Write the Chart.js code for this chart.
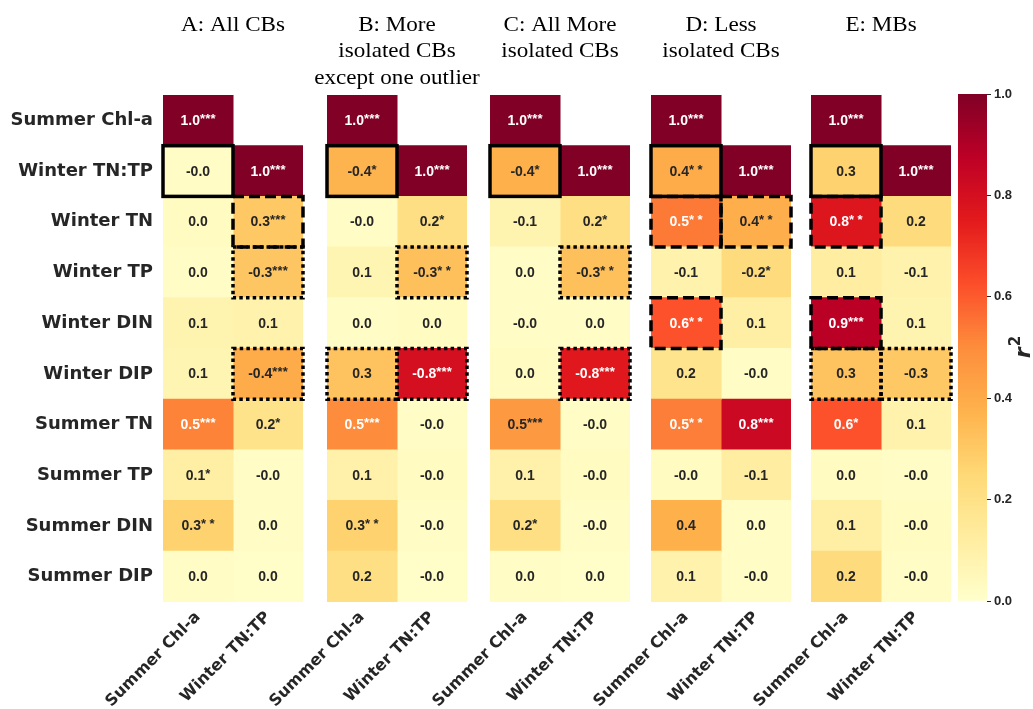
<!DOCTYPE html>
<html lang="en">
<head>
  <meta charset="UTF-8">
  <title>Nutrient correlation heatmaps</title>
  <script src="https://cdn.jsdelivr.net/npm/chart.js"></script>
  <style>
    body { margin: 0; background: #fff; }
    #board { position: relative; width: 1033px; height: 709px; overflow: hidden; }
    #board canvas { position: absolute; top: 0; }
  </style>
</head>
<body>
<div id="board"></div>

<script>
  const rowNames = ['Summer Chl-a', 'Winter TN:TP', 'Winter TN', 'Winter TP', 'Winter DIN',
                    'Winter DIP', 'Summer TN', 'Summer TP', 'Summer DIN', 'Summer DIP'];
  const colNames = ['Summer Chl-a', 'Winter TN:TP'];

  const titleA = ['A: All CBs'];
  const titleB = ['B: More', 'isolated CBs', 'except one outlier'];
  const titleC = ['C: All More', 'isolated CBs'];
  const titleD = ['D: Less', 'isolated CBs'];
  const titleE = ['E: MBs'];

  // signed r, first list = Summer Chl-a column, second = Winter TN:TP column
  const rA = [
    [1.00, -0.02, 0.03, 0.02, 0.08, 0.07, 0.52, 0.11, 0.27, 0.02],
    [null, 1.00, 0.30, -0.31, 0.09, -0.40, 0.19, -0.02, 0.02, 0.01]
  ];
  const rB = [
    [1.00, -0.37, -0.02, 0.07, 0.02, 0.32, 0.50, 0.10, 0.27, 0.21],
    [null, 1.00, 0.21, -0.33, 0.03, -0.80, -0.02, -0.03, -0.02, -0.01]
  ];
  const rC = [
    [1.00, -0.38, -0.08, 0.02, -0.02, 0.03, 0.46, 0.10, 0.21, 0.02],
    [null, 1.00, 0.21, -0.33, 0.02, -0.76, -0.02, -0.03, -0.02, 0.01]
  ];
  const rD = [
    [1.00, 0.40, 0.54, -0.09, 0.62, 0.18, 0.53, -0.03, 0.38, 0.09],
    [null, 1.00, 0.39, -0.23, 0.11, -0.02, 0.83, -0.12, 0.02, -0.02]
  ];
  const rE = [
    [1.00, 0.27, 0.77, 0.12, 0.88, 0.32, 0.62, 0.03, 0.11, 0.23],
    [null, 1.00, 0.23, -0.09, 0.08, -0.30, 0.09, -0.02, -0.03, -0.02]
  ];

  // number of significance stars per cell
  const starsA = [[3, 0, 0, 0, 0, 0, 3, 1, 2, 0], [0, 3, 3, 3, 0, 3, 1, 0, 0, 0]];
  const starsB = [[3, 1, 0, 0, 0, 0, 3, 0, 2, 0], [0, 3, 1, 2, 0, 3, 0, 0, 0, 0]];
  const starsC = [[3, 1, 0, 0, 0, 0, 3, 0, 1, 0], [0, 3, 1, 2, 0, 3, 0, 0, 0, 0]];
  const starsD = [[3, 2, 2, 0, 2, 0, 2, 0, 0, 0], [0, 3, 2, 1, 0, 0, 3, 0, 0, 0]];
  const starsE = [[3, 0, 2, 0, 3, 0, 1, 0, 0, 0], [0, 3, 0, 0, 0, 0, 0, 0, 0, 0]];

  // highlighted cells: [row, column, outline]
  const boxesA = [[2, 1, 'dashed'], [3, 1, 'dotted'], [5, 1, 'dotted'], [1, 0, 'solid']];
  const boxesB = [[3, 1, 'dotted'], [5, 0, 'dotted'], [5, 1, 'dotted'], [1, 0, 'solid']];
  const boxesC = [[3, 1, 'dotted'], [5, 1, 'dotted'], [1, 0, 'solid']];
  const boxesD = [[2, 0, 'dashed'], [2, 1, 'dashed'], [4, 0, 'dashed'], [1, 0, 'solid']];
  const boxesE = [[5, 0, 'dotted'], [5, 1, 'dotted'], [2, 0, 'dashed'], [4, 0, 'dashed'], [1, 0, 'solid']];

  const cbarTicks = [0, 0.2, 0.4, 0.6, 0.8, 1.0];

  // ---- layout ----
  const panelLeft = [163, 327, 490, 651, 811];
  const panelW = 140;
  const padRight = 30;
  const gridTop = 95, gridBottom = 602, pageH = 709;
  const ink = '#262626';

  // YlOrRd
  const ylOrRd = [[255,255,204],[255,237,160],[254,217,118],[254,178,76],[253,141,60],
                  [252,78,42],[227,26,28],[189,0,38],[128,0,38]];

  function shade(v) {
    const t = Math.min(Math.abs(v), 1) * (ylOrRd.length - 1);
    const i = Math.min(Math.floor(t), ylOrRd.length - 2);
    const f = t - i;
    return ylOrRd[i].map((c, k) => Math.round(c + (ylOrRd[i + 1][k] - c) * f));
  }
  const css = c => `rgb(${c[0]},${c[1]},${c[2]})`;

  function luminance(c) {
    const lin = c.map(x => {
      x /= 255;
      return x <= 0.03928 ? x / 12.92 : Math.pow((x + 0.055) / 1.055, 2.4);
    });
    return 0.2126 * lin[0] + 0.7152 * lin[1] + 0.0722 * lin[2];
  }

  // value text + superscript stars in every cell
  const cellText = {
    id: 'cellText',
    afterDatasetsDraw(chart) {
      const ctx = chart.ctx;
      ctx.save();
      ctx.textBaseline = 'alphabetic';
      ctx.textAlign = 'left';
      chart.data.datasets.forEach((ds, c) => {
        chart.getDatasetMeta(c).data.forEach((bar, r) => {
          const v = ds.cellValues[r];
          if (v == null) return;
          const txt = v.toFixed(1);
          const n = ds.cellStars[r];
          const cx = (bar.x + bar.base) / 2;
          const base = bar.y + 4.5;
          ctx.font = 'bold 14px "Liberation Sans", Arial, sans-serif';
          const wNum = ctx.measureText(txt).width;
          ctx.font = 'bold 13px "Liberation Sans", Arial, sans-serif';
          const wStar = ctx.measureText('*').width;
          const pitch = n === 2 ? 8.5 : 5.2;
          const wStars = n ? (n - 1) * pitch + wStar : 0;
          const x0 = cx - (wNum + wStars) / 2;
          ctx.fillStyle = luminance(shade(v)) > 0.408 ? ink : '#ffffff';
          ctx.font = 'bold 14px "Liberation Sans", Arial, sans-serif';
          ctx.fillText(txt, x0, base);
          ctx.font = 'bold 13px "Liberation Sans", Arial, sans-serif';
          for (let s = 0; s < n; s++) {
            ctx.fillText('*', x0 + wNum + s * pitch, base - 2);
          }
        });
      });
      ctx.restore();
    }
  };

  // outlined cells
  const cellBoxes = {
    id: 'cellBoxes',
    afterDatasetsDraw(chart, args, opts) {
      const ctx = chart.ctx;
      ctx.save();
      ctx.strokeStyle = '#000';
      ctx.lineWidth = 3.5;
      opts.list.forEach(([r, c, style]) => {
        const bar = chart.getDatasetMeta(c).data[r];
        const x1 = Math.min(bar.x, bar.base), x2 = Math.max(bar.x, bar.base);
        const y1 = bar.y - bar.height / 2, y2 = bar.y + bar.height / 2;
        ctx.setLineDash(style === 'dashed' ? [11, 5] : style === 'dotted' ? [3.5, 3.2] : []);
        ctx.lineJoin = 'miter';
        ctx.strokeRect(x1, y1, x2 - x1, y2 - y1);
      });
      ctx.restore();
    }
  };

  const panelTitle = {
    id: 'panelTitle',
    afterDraw(chart, args, opts) {
      const { ctx, chartArea } = chart;
      const cx = (chartArea.left + chartArea.right) / 2;
      ctx.save();
      ctx.font = '22px "Liberation Serif", "DejaVu Serif", serif';
      ctx.fillStyle = '#000';
      ctx.textAlign = 'center';
      ctx.textBaseline = 'middle';
      opts.lines.forEach((t, i) => {
        ctx.save();
        ctx.translate(cx, 25 + i * 26.5);
        ctx.scale(1.05, 1);
        ctx.fillText(t, 0, 0);
        ctx.restore();
      });
      ctx.restore();
    }
  };

  const board = document.getElementById('board');

  function makePanel(idx, title, vals, stars, boxes) {
    const left = panelLeft[idx];
    const withRows = idx === 0;
    const canvasLeft = withRows ? 0 : left - 110;
    const canvas = document.createElement('canvas');
    canvas.width = (left - canvasLeft) + panelW + padRight;
    canvas.height = pageH;
    canvas.style.left = canvasLeft + 'px';
    board.appendChild(canvas);

    new Chart(canvas, {
      type: 'bar',
      data: {
        labels: rowNames,
        datasets: vals.map((col, c) => ({
          data: col.map(v => v == null ? null : [c, c + 1]),
          backgroundColor: col.map(v => v == null ? 'rgba(0,0,0,0)' : css(shade(v))),
          cellValues: col,
          cellStars: stars[c],
          borderWidth: 0,
          inflateAmount: 0.5,
          barPercentage: 1,
          categoryPercentage: 1,
          grouped: false
        }))
      },
      options: {
        indexAxis: 'y',
        responsive: false,
        animation: false,
        layout: { padding: { left: withRows ? 0 : 110, right: padRight, top: gridTop, bottom: 0 } },
        plugins: {
          legend: { display: false },
          tooltip: { enabled: false },
          panelTitle: { lines: title },
          cellBoxes: { list: boxes }
        },
        scales: {
          x: {
            min: 0, max: 2,
            stacked: false,
            grid: { display: false, drawTicks: false },
            border: { display: false },
            afterBuildTicks: ax => { ax.ticks = [{ value: 0.5 }, { value: 1.5 }]; },
            afterFit: s => { s.height = pageH - gridBottom; },
            ticks: {
              autoSkip: false,
              minRotation: 45,
              maxRotation: 45,
              padding: 6,
              color: ink,
              font: { family: 'DejaVu Sans', weight: 'bold', size: 16 },
              callback: v => colNames[Math.floor(v)]
            }
          },
          y: {
            display: withRows,
            grid: { display: false, drawTicks: false },
            border: { display: false },
            afterFit: s => { if (withRows) s.width = left; },
            ticks: {
              padding: 10,
              color: ink,
              font: { family: 'DejaVu Sans', weight: 'bold', size: 18 }
            }
          }
        }
      },
      plugins: [cellText, cellBoxes, panelTitle]
    });
  }

  makePanel(0, titleA, rA, starsA, boxesA);
  makePanel(1, titleB, rB, starsB, boxesB);
  makePanel(2, titleC, rC, starsC, boxesC);
  makePanel(3, titleD, rD, starsD, boxesD);
  makePanel(4, titleE, rE, starsE, boxesE);

  // ---- colour bar ----
  const cbLeft = 958, cbW = 29, cbTop = 94, cbBottom = 601;
  const cbCanvas = document.createElement('canvas');
  cbCanvas.width = 1033 - (cbLeft - 20);
  cbCanvas.height = pageH;
  cbCanvas.style.left = (cbLeft - 20) + 'px';
  board.appendChild(cbCanvas);

  const rSquared = {
    id: 'rSquared',
    afterDraw(chart) {
      const ctx = chart.ctx;
      ctx.save();
      ctx.translate(1022 - (cbLeft - 20), 347);
      ctx.rotate(-Math.PI / 2);
      ctx.fillStyle = ink;
      ctx.textBaseline = 'middle';
      ctx.font = 'italic bold 22px "DejaVu Sans", sans-serif';
      const wr = ctx.measureText('r').width;
      ctx.font = 'bold 15px "DejaVu Sans", sans-serif';
      const w2 = ctx.measureText('2').width;
      const x0 = -(wr + w2 + 1) / 2;
      ctx.font = 'italic bold 22px "DejaVu Sans", sans-serif';
      ctx.fillText('r', x0, 2);
      ctx.font = 'bold 15px "DejaVu Sans", sans-serif';
      ctx.fillText('2', x0 + wr + 1, -6);
      ctx.restore();
    }
  };

  new Chart(cbCanvas, {
    type: 'bar',
    data: {
      labels: [''],
      datasets: [{
        data: [[0, 1]],
        borderWidth: 0,
        barPercentage: 1,
        categoryPercentage: 1,
        backgroundColor: (c) => {
          const area = c.chart.chartArea;
          if (!area) return '#fff';
          const g = c.chart.ctx.createLinearGradient(0, area.bottom, 0, area.top);
          ylOrRd.forEach((col, i) => g.addColorStop(i / (ylOrRd.length - 1), css(col)));
          return g;
        }
      }]
    },
    options: {
      responsive: false,
      animation: false,
      layout: { padding: { left: 20, right: 0, top: cbTop, bottom: pageH - cbBottom } },
      plugins: { legend: { display: false }, tooltip: { enabled: false } },
      scales: {
        x: { display: false },
        y: {
          position: 'right',
          min: 0, max: 1,
          afterBuildTicks: ax => { ax.ticks = cbarTicks.map(v => ({ value: v })); },
          afterFit: s => { s.width = cbCanvas.width - 20 - cbW; },
          grid: { drawOnChartArea: false, drawTicks: true, tickLength: 4, color: ink },
          border: { display: false },
          ticks: {
            padding: 3,
            color: ink,
            font: { family: 'Liberation Sans', weight: 'bold', size: 13 },
            callback: v => v.toFixed(1)
          }
        }
      }
    },
    plugins: [rSquared]
  });
</script>
</body>
</html>
